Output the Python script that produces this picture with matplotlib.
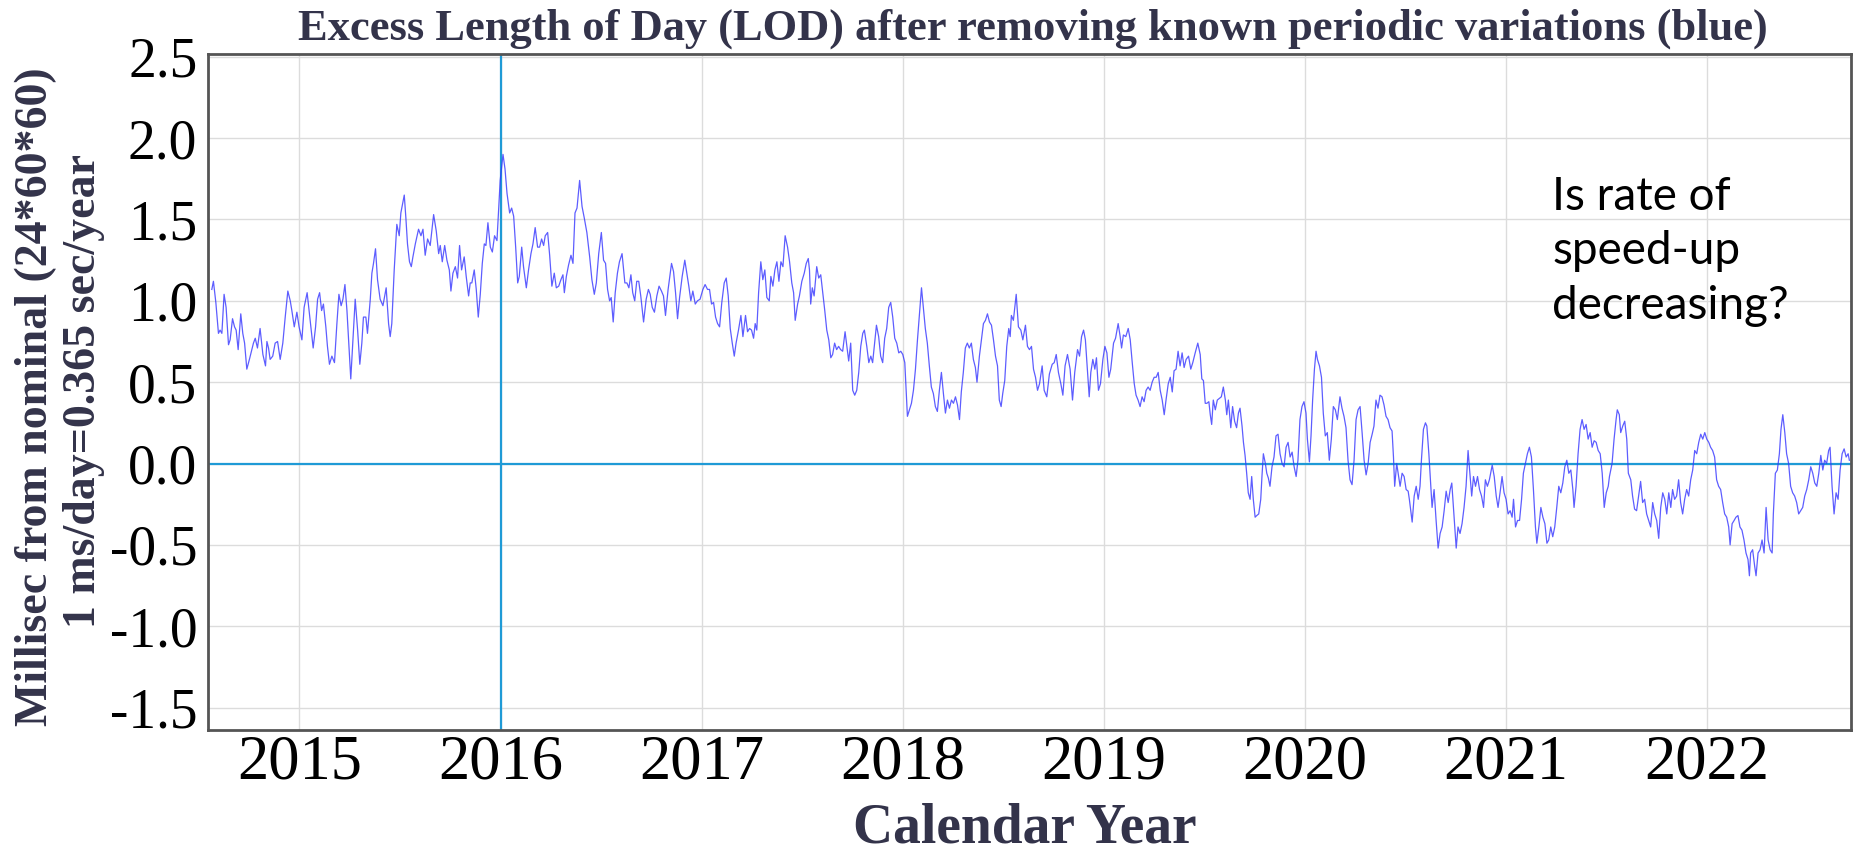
import numpy as np
import matplotlib
matplotlib.use("Agg")
import matplotlib.pyplot as plt

# excess LOD (ms) in eight stretches, decimal year vs value
t_a = [2014.564, 2014.572, 2014.584, 2014.597, 2014.605, 2014.614, 2014.625, 2014.635, 2014.647, 2014.655,
       2014.667, 2014.677, 2014.685, 2014.695, 2014.708, 2014.718, 2014.727, 2014.738, 2014.751, 2014.763,
       2014.771, 2014.780, 2014.791, 2014.804, 2014.818, 2014.831, 2014.838, 2014.846, 2014.854, 2014.867,
       2014.879, 2014.891, 2014.904, 2014.917, 2014.929, 2014.942, 2014.954, 2014.962, 2014.974, 2014.987,
       2014.998, 2015.012, 2015.023, 2015.038, 2015.053, 2015.068, 2015.080, 2015.090, 2015.100, 2015.110,
       2015.119, 2015.131, 2015.139, 2015.149, 2015.161, 2015.174, 2015.186, 2015.196, 2015.207, 2015.216,
       2015.226, 2015.236, 2015.245, 2015.255, 2015.265, 2015.277, 2015.289, 2015.300, 2015.310, 2015.318,
       2015.330, 2015.338, 2015.352, 2015.360, 2015.368, 2015.378, 2015.388, 2015.401, 2015.415, 2015.431,
       2015.443, 2015.451, 2015.459, 2015.471, 2015.484, 2015.496, 2015.504, 2015.521, 2015.529, 2015.537,
       2015.547]
v_a = [1.07, 1.12, 0.99, 0.80, 0.82, 0.80, 1.04, 0.96, 0.73, 0.76,
       0.89, 0.84, 0.82, 0.70, 0.92, 0.80, 0.74, 0.58, 0.64, 0.70,
       0.74, 0.77, 0.71, 0.83, 0.67, 0.60, 0.75, 0.71, 0.64, 0.66,
       0.74, 0.75, 0.64, 0.74, 0.90, 1.06, 1.00, 0.94, 0.84, 0.93,
       0.84, 0.76, 0.96, 1.05, 0.88, 0.71, 0.84, 1.01, 1.05, 0.94,
       0.98, 0.84, 0.72, 0.61, 0.66, 0.62, 0.86, 1.04, 0.97, 1.01,
       1.10, 0.94, 0.74, 0.52, 0.74, 1.01, 0.82, 0.61, 0.74, 0.90,
       0.90, 0.80, 1.01, 1.17, 1.23, 1.32, 1.13, 1.01, 0.97, 1.08,
       0.86, 0.78, 0.86, 1.19, 1.47, 1.40, 1.54, 1.65, 1.51, 1.35,
       1.24]

t_b = [2015.556, 2015.564, 2015.576, 2015.592, 2015.604, 2015.614, 2015.625, 2015.637, 2015.650, 2015.667,
       2015.680, 2015.692, 2015.700, 2015.710, 2015.722, 2015.733, 2015.745, 2015.753, 2015.763, 2015.775,
       2015.786, 2015.796, 2015.806, 2015.819, 2015.829, 2015.841, 2015.849, 2015.857, 2015.869, 2015.879,
       2015.889, 2015.899, 2015.909, 2015.919, 2015.927, 2015.937, 2015.949, 2015.959, 2015.970, 2015.982,
       2015.990, 2015.998, 2016.012, 2016.022, 2016.032, 2016.045, 2016.055, 2016.065, 2016.075, 2016.085,
       2016.093, 2016.105, 2016.114, 2016.128, 2016.139, 2016.151, 2016.161, 2016.172, 2016.184, 2016.194,
       2016.204, 2016.214, 2016.222, 2016.234, 2016.244, 2016.255, 2016.267, 2016.277, 2016.289, 2016.300,
       2016.310, 2016.317, 2016.327, 2016.338, 2016.350, 2016.360, 2016.370, 2016.380, 2016.393, 2016.405,
       2016.416, 2016.429, 2016.443, 2016.454, 2016.466, 2016.476, 2016.488, 2016.501, 2016.512, 2016.522,
       2016.532, 2016.542]
v_b = [1.21, 1.27, 1.35, 1.44, 1.40, 1.44, 1.28, 1.38, 1.34, 1.53,
       1.43, 1.29, 1.34, 1.24, 1.34, 1.25, 1.19, 1.06, 1.17, 1.21,
       1.14, 1.34, 1.19, 1.27, 1.15, 1.03, 1.11, 1.11, 1.19, 1.07,
       0.90, 1.04, 1.23, 1.35, 1.34, 1.48, 1.33, 1.30, 1.40, 1.37,
       1.56, 1.74, 1.90, 1.81, 1.66, 1.54, 1.57, 1.52, 1.33, 1.11,
       1.15, 1.33, 1.21, 1.08, 1.19, 1.29, 1.35, 1.45, 1.33, 1.33,
       1.38, 1.34, 1.40, 1.42, 1.28, 1.09, 1.17, 1.08, 1.09, 1.13,
       1.16, 1.05, 1.15, 1.22, 1.28, 1.23, 1.54, 1.57, 1.74, 1.58,
       1.51, 1.42, 1.27, 1.13, 1.04, 1.11, 1.29, 1.42, 1.25, 1.23,
       1.07, 1.00]

t_c = [2016.550, 2016.560, 2016.570, 2016.581, 2016.591, 2016.604, 2016.618, 2016.628, 2016.638, 2016.648,
       2016.657, 2016.667, 2016.677, 2016.687, 2016.697, 2016.711, 2016.724, 2016.735, 2016.744, 2016.754,
       2016.765, 2016.777, 2016.788, 2016.800, 2016.810, 2016.820, 2016.833, 2016.850, 2016.860, 2016.870,
       2016.880, 2016.890, 2016.903, 2016.916, 2016.926, 2016.936, 2016.946, 2016.956, 2016.968, 2016.979,
       2016.992, 2017.006, 2017.017, 2017.029, 2017.039, 2017.049, 2017.059, 2017.069, 2017.079, 2017.089,
       2017.100, 2017.112, 2017.122, 2017.132, 2017.142, 2017.152, 2017.162, 2017.171, 2017.183, 2017.195,
       2017.205, 2017.218, 2017.228, 2017.238, 2017.248, 2017.258, 2017.266, 2017.274, 2017.283, 2017.294,
       2017.304, 2017.314, 2017.324, 2017.336, 2017.344, 2017.354, 2017.364, 2017.374, 2017.384, 2017.394,
       2017.404, 2017.415, 2017.427, 2017.437, 2017.448, 2017.457, 2017.465, 2017.477, 2017.486, 2017.498,
       2017.510, 2017.520, 2017.530, 2017.536]
v_c = [1.02, 0.87, 1.05, 1.17, 1.24, 1.29, 1.11, 1.11, 1.08, 1.16,
       1.05, 1.00, 1.12, 1.12, 1.03, 0.87, 1.01, 1.07, 1.04, 0.96,
       0.93, 1.03, 1.09, 1.06, 1.03, 0.91, 1.07, 1.23, 1.18, 1.05,
       0.89, 1.02, 1.15, 1.25, 1.17, 1.09, 1.00, 1.06, 0.98, 1.00,
       1.01, 1.07, 1.10, 1.07, 1.07, 0.98, 0.99, 0.90, 0.86, 0.84,
       0.99, 1.11, 1.14, 1.03, 0.83, 0.74, 0.66, 0.74, 0.82, 0.91,
       0.78, 0.91, 0.81, 0.83, 0.82, 0.77, 0.86, 0.82, 1.05, 1.24,
       1.13, 1.19, 1.02, 1.00, 1.15, 1.09, 1.19, 1.24, 1.12, 1.24,
       1.21, 1.40, 1.33, 1.24, 1.11, 1.05, 0.88, 0.98, 1.03, 1.12,
       1.17, 1.23, 1.26, 1.19]

t_d = [2017.542, 2017.550, 2017.559, 2017.572, 2017.582, 2017.592, 2017.602, 2017.612, 2017.622, 2017.632,
       2017.642, 2017.651, 2017.661, 2017.671, 2017.681, 2017.691, 2017.701, 2017.713, 2017.723, 2017.731,
       2017.741, 2017.751, 2017.761, 2017.771, 2017.781, 2017.791, 2017.801, 2017.809, 2017.821, 2017.831,
       2017.841, 2017.850, 2017.860, 2017.869, 2017.880, 2017.890, 2017.900, 2017.910, 2017.920, 2017.930,
       2017.940, 2017.950, 2017.960, 2017.970, 2017.980, 2017.990, 2018.000, 2018.010, 2018.016, 2018.023,
       2018.033, 2018.043, 2018.053, 2018.063, 2018.073, 2018.083, 2018.093, 2018.102, 2018.112, 2018.122,
       2018.132, 2018.142, 2018.152, 2018.162, 2018.172, 2018.182, 2018.192, 2018.202, 2018.212, 2018.222,
       2018.232, 2018.242, 2018.252, 2018.262, 2018.272, 2018.282, 2018.291, 2018.301, 2018.311, 2018.321,
       2018.331, 2018.341, 2018.351, 2018.361, 2018.369, 2018.381, 2018.391, 2018.401, 2018.411, 2018.421,
       2018.431, 2018.441, 2018.451, 2018.461, 2018.471, 2018.480, 2018.489, 2018.497, 2018.507, 2018.517,
       2018.527, 2018.534]
v_d = [0.98, 1.08, 1.03, 1.21, 1.14, 1.16, 1.05, 0.94, 0.82, 0.76,
       0.65, 0.67, 0.74, 0.70, 0.72, 0.70, 0.69, 0.81, 0.71, 0.63,
       0.74, 0.45, 0.42, 0.45, 0.56, 0.72, 0.80, 0.82, 0.72, 0.62,
       0.66, 0.62, 0.74, 0.85, 0.78, 0.66, 0.62, 0.77, 0.83, 0.96,
       0.99, 0.90, 0.77, 0.74, 0.68, 0.69, 0.67, 0.62, 0.47, 0.29,
       0.33, 0.37, 0.45, 0.58, 0.76, 0.92, 1.08, 0.96, 0.83, 0.74,
       0.60, 0.47, 0.43, 0.35, 0.32, 0.45, 0.56, 0.43, 0.31, 0.39,
       0.34, 0.39, 0.37, 0.41, 0.36, 0.27, 0.44, 0.56, 0.71, 0.74,
       0.71, 0.74, 0.64, 0.59, 0.50, 0.66, 0.76, 0.86, 0.88, 0.92,
       0.87, 0.85, 0.76, 0.66, 0.60, 0.39, 0.35, 0.43, 0.51, 0.72,
       0.83, 0.78]

t_e = [2018.540, 2018.550, 2018.564, 2018.575, 2018.587, 2018.597, 2018.610, 2018.620, 2018.630, 2018.640,
       2018.650, 2018.660, 2018.670, 2018.680, 2018.693, 2018.703, 2018.716, 2018.729, 2018.743, 2018.753,
       2018.763, 2018.774, 2018.786, 2018.796, 2018.807, 2018.819, 2018.832, 2018.844, 2018.855, 2018.869,
       2018.879, 2018.889, 2018.899, 2018.908, 2018.918, 2018.927, 2018.935, 2018.945, 2018.955, 2018.963,
       2018.973, 2018.983, 2018.995, 2019.005, 2019.015, 2019.025, 2019.034, 2019.048, 2019.058, 2019.071,
       2019.081, 2019.088, 2019.097, 2019.109, 2019.121, 2019.131, 2019.141, 2019.151, 2019.160, 2019.170,
       2019.180, 2019.190, 2019.200, 2019.210, 2019.220, 2019.230, 2019.240, 2019.250, 2019.260, 2019.270,
       2019.280, 2019.290, 2019.300, 2019.310, 2019.320, 2019.330, 2019.340, 2019.349, 2019.359, 2019.369,
       2019.379, 2019.389, 2019.399, 2019.409, 2019.421, 2019.432, 2019.442, 2019.454, 2019.467, 2019.479,
       2019.487, 2019.495, 2019.504, 2019.512, 2019.522, 2019.529]
v_e = [0.91, 0.88, 1.04, 0.84, 0.82, 0.76, 0.85, 0.72, 0.70, 0.72,
       0.58, 0.53, 0.45, 0.49, 0.60, 0.45, 0.41, 0.55, 0.61, 0.62,
       0.67, 0.56, 0.49, 0.42, 0.60, 0.67, 0.58, 0.39, 0.56, 0.70,
       0.66, 0.78, 0.82, 0.76, 0.58, 0.41, 0.56, 0.64, 0.58, 0.65,
       0.45, 0.49, 0.64, 0.72, 0.68, 0.53, 0.58, 0.74, 0.77, 0.86,
       0.78, 0.71, 0.79, 0.78, 0.83, 0.76, 0.62, 0.49, 0.42, 0.39,
       0.35, 0.41, 0.38, 0.45, 0.47, 0.45, 0.50, 0.53, 0.53, 0.56,
       0.45, 0.39, 0.30, 0.40, 0.49, 0.53, 0.44, 0.57, 0.58, 0.69,
       0.60, 0.68, 0.59, 0.64, 0.66, 0.58, 0.62, 0.68, 0.74, 0.67,
       0.52, 0.51, 0.37, 0.37, 0.38, 0.30]

t_f = [2019.536, 2019.544, 2019.554, 2019.564, 2019.574, 2019.584, 2019.594, 2019.604, 2019.611, 2019.619,
       2019.631, 2019.640, 2019.650, 2019.660, 2019.669, 2019.677, 2019.687, 2019.694, 2019.702, 2019.710,
       2019.718, 2019.727, 2019.735, 2019.743, 2019.752, 2019.760, 2019.770, 2019.780, 2019.786, 2019.793,
       2019.803, 2019.810, 2019.818, 2019.826, 2019.836, 2019.846, 2019.856, 2019.866, 2019.876, 2019.886,
       2019.896, 2019.906, 2019.916, 2019.926, 2019.936, 2019.946, 2019.956, 2019.965, 2019.975, 2019.985,
       2019.995, 2020.005, 2020.012, 2020.022, 2020.030, 2020.038, 2020.047, 2020.055, 2020.062, 2020.072,
       2020.082, 2020.091, 2020.101, 2020.111, 2020.121, 2020.131, 2020.141, 2020.151, 2020.161, 2020.174,
       2020.184, 2020.194, 2020.204, 2020.214, 2020.224, 2020.234, 2020.244, 2020.254, 2020.264, 2020.274,
       2020.284, 2020.294, 2020.304, 2020.314, 2020.324, 2020.334, 2020.343, 2020.353, 2020.363, 2020.373,
       2020.383, 2020.393, 2020.403, 2020.413, 2020.423, 2020.433, 2020.440, 2020.446, 2020.456, 2020.466,
       2020.473, 2020.483, 2020.493, 2020.503, 2020.513, 2020.519]
v_f = [0.24, 0.39, 0.33, 0.39, 0.40, 0.41, 0.47, 0.39, 0.30, 0.39,
       0.22, 0.35, 0.26, 0.22, 0.31, 0.34, 0.23, 0.13, 0.05, -0.06,
       -0.18, -0.22, -0.08, -0.22, -0.33, -0.32, -0.31, -0.22, -0.08, 0.06,
       0.00, -0.06, -0.09, -0.14, -0.02, 0.04, 0.17, 0.18, 0.06, 0.00,
       -0.02, 0.10, 0.13, 0.04, 0.07, -0.02, -0.08, 0.02, 0.27, 0.35,
       0.38, 0.31, 0.15, 0.01, 0.17, 0.39, 0.58, 0.69, 0.64, 0.60,
       0.53, 0.31, 0.17, 0.19, 0.02, 0.15, 0.35, 0.33, 0.27, 0.41,
       0.34, 0.29, 0.22, 0.02, -0.10, -0.13, 0.02, 0.27, 0.33, 0.35,
       0.19, 0.02, -0.07, 0.00, 0.13, 0.18, 0.23, 0.39, 0.34, 0.42,
       0.41, 0.36, 0.29, 0.27, 0.22, 0.20, 0.04, -0.14, 0.00, -0.08,
       -0.14, -0.06, -0.08, -0.16, -0.17, -0.22]

t_g = [2020.533, 2020.543, 2020.553, 2020.563, 2020.572, 2020.579, 2020.589, 2020.599, 2020.606, 2020.616,
       2020.626, 2020.632, 2020.642, 2020.652, 2020.662, 2020.672, 2020.682, 2020.692, 2020.702, 2020.712,
       2020.722, 2020.730, 2020.738, 2020.747, 2020.752, 2020.761, 2020.771, 2020.781, 2020.791, 2020.801,
       2020.811, 2020.821, 2020.829, 2020.838, 2020.848, 2020.858, 2020.868, 2020.878, 2020.888, 2020.897,
       2020.907, 2020.917, 2020.931, 2020.941, 2020.951, 2020.960, 2020.970, 2020.980, 2020.990, 2021.000,
       2021.010, 2021.020, 2021.030, 2021.037, 2021.047, 2021.057, 2021.067, 2021.077, 2021.086, 2021.096,
       2021.106, 2021.116, 2021.126, 2021.136, 2021.146, 2021.153, 2021.163, 2021.173, 2021.183, 2021.193,
       2021.203, 2021.212, 2021.222, 2021.232, 2021.242, 2021.252, 2021.262, 2021.272, 2021.282, 2021.292,
       2021.302, 2021.312, 2021.322, 2021.332, 2021.338, 2021.348, 2021.358, 2021.368, 2021.378, 2021.388,
       2021.398, 2021.408, 2021.418, 2021.428, 2021.438, 2021.448, 2021.458, 2021.468, 2021.478, 2021.488,
       2021.498, 2021.508, 2021.514]
v_g = [-0.36, -0.20, -0.14, -0.22, -0.14, 0.02, 0.21, 0.25, 0.23, 0.06,
       -0.14, -0.27, -0.16, -0.35, -0.52, -0.43, -0.39, -0.29, -0.17, -0.24,
       -0.16, -0.12, -0.27, -0.43, -0.52, -0.39, -0.43, -0.37, -0.27, -0.14,
       0.08, -0.08, -0.20, -0.08, -0.14, -0.08, -0.16, -0.20, -0.27, -0.10,
       -0.14, -0.10, -0.01, -0.08, -0.20, -0.27, -0.18, -0.08, -0.18, -0.22,
       -0.31, -0.29, -0.33, -0.22, -0.39, -0.35, -0.35, -0.22, -0.06, 0.00,
       0.06, 0.10, 0.04, -0.16, -0.39, -0.49, -0.39, -0.27, -0.33, -0.37,
       -0.49, -0.47, -0.39, -0.45, -0.39, -0.27, -0.14, -0.18, -0.12, -0.02,
       0.02, -0.06, -0.04, -0.16, -0.27, -0.14, 0.06, 0.21, 0.27, 0.21,
       0.24, 0.15, 0.19, 0.10, 0.14, 0.13, 0.08, 0.06, -0.06, -0.27,
       -0.18, -0.14, -0.08]

t_h = [2021.527, 2021.537, 2021.547, 2021.553, 2021.563, 2021.570, 2021.580, 2021.590, 2021.600, 2021.608,
       2021.620, 2021.629, 2021.639, 2021.649, 2021.659, 2021.669, 2021.679, 2021.689, 2021.699, 2021.709,
       2021.719, 2021.729, 2021.739, 2021.749, 2021.759, 2021.769, 2021.779, 2021.789, 2021.799, 2021.809,
       2021.819, 2021.828, 2021.838, 2021.848, 2021.858, 2021.868, 2021.878, 2021.888, 2021.898, 2021.908,
       2021.918, 2021.928, 2021.938, 2021.948, 2021.958, 2021.968, 2021.978, 2021.988, 2021.998, 2022.008,
       2022.017, 2022.027, 2022.037, 2022.047, 2022.057, 2022.067, 2022.077, 2022.087, 2022.097, 2022.107,
       2022.114, 2022.124, 2022.134, 2022.143, 2022.153, 2022.163, 2022.173, 2022.183, 2022.193, 2022.203,
       2022.210, 2022.216, 2022.226, 2022.236, 2022.243, 2022.253, 2022.263, 2022.273, 2022.283, 2022.293,
       2022.303, 2022.313, 2022.323, 2022.329, 2022.339, 2022.349, 2022.359, 2022.367, 2022.376, 2022.386,
       2022.395, 2022.405, 2022.415, 2022.425, 2022.435, 2022.445, 2022.455, 2022.465, 2022.475, 2022.485,
       2022.495, 2022.505, 2022.515, 2022.525, 2022.535, 2022.545, 2022.555, 2022.565, 2022.575, 2022.584,
       2022.594, 2022.604, 2022.611, 2022.621, 2022.631, 2022.641, 2022.651, 2022.661, 2022.671, 2022.681,
       2022.691, 2022.701, 2022.707]
v_h = [0.00, 0.15, 0.27, 0.33, 0.30, 0.19, 0.23, 0.26, 0.15, -0.06,
       -0.10, -0.20, -0.28, -0.29, -0.20, -0.11, -0.24, -0.22, -0.31, -0.35,
       -0.39, -0.24, -0.31, -0.35, -0.46, -0.27, -0.18, -0.22, -0.31, -0.18,
       -0.27, -0.16, -0.22, -0.20, -0.10, -0.24, -0.31, -0.22, -0.16, -0.20,
       -0.10, -0.04, 0.08, 0.06, 0.13, 0.18, 0.15, 0.19, 0.15, 0.13,
       0.10, 0.08, 0.04, -0.10, -0.14, -0.16, -0.24, -0.31, -0.33, -0.39,
       -0.50, -0.37, -0.35, -0.33, -0.32, -0.39, -0.41, -0.47, -0.55, -0.59,
       -0.69, -0.55, -0.53, -0.63, -0.69, -0.55, -0.53, -0.47, -0.55, -0.27,
       -0.47, -0.53, -0.55, -0.31, -0.06, -0.04, 0.06, 0.21, 0.30, 0.19,
       0.06, 0.00, -0.14, -0.18, -0.20, -0.24, -0.31, -0.29, -0.27, -0.20,
       -0.16, -0.10, -0.02, -0.06, -0.12, -0.14, -0.06, 0.05, -0.04, 0.02,
       0.00, 0.08, 0.10, -0.14, -0.31, -0.18, -0.22, -0.04, 0.06, 0.09,
       0.04, 0.06, 0.02]

segments = [(t_a, v_a), (t_b, v_b), (t_c, v_c), (t_d, v_d),
            (t_e, v_e), (t_f, v_f), (t_g, v_g), (t_h, v_h)]
for t, v in segments:
    assert len(t) == len(v), (len(t), len(v))

years = np.concatenate([t for t, v in segments])
lod = np.concatenate([v for t, v in segments])

year_ticks = [2015, 2016, 2017, 2018, 2019, 2020, 2021, 2022]
lod_ticks = [-1.5, -1.0, -0.5, 0.0, 0.5, 1.0, 1.5, 2.0, 2.5]

title = "Excess Length of Day (LOD) after removing known periodic variations (blue)"
ylab1 = "Millisec from nominal (24*60*60)"
ylab2 = "1 ms/day=0.365 sec/year"
note = "Is rate of\nspeed-up\ndecreasing?"

serif = "Liberation Serif"
dark = "#33334a"

fig = plt.figure(figsize=(18.64, 8.55), dpi=100)
ax = fig.add_axes([0.1118, 0.1462, 0.8811, 0.7912])

ax.set_xlim(2014.547, 2022.714)
ax.set_ylim(-1.638, 2.52)

ax.set_xticks(year_ticks)
ax.set_yticks(lod_ticks)
ax.set_xticklabels([str(y) for y in year_ticks], fontfamily=serif, fontsize=45)
ax.set_yticklabels(["%.1f" % v for v in lod_ticks], fontfamily=serif, fontsize=40)
ax.tick_params(axis="both", length=0)
ax.tick_params(axis="x", pad=3)
ax.tick_params(axis="y", pad=8)

ax.grid(True, color="#dcdcdc", lw=1.0)
ax.set_axisbelow(True)

# reference lines
ax.axhline(0.0, color="#1f9ad6", lw=1.6, zorder=2)
ax.axvline(2016.0, color="#1f9ad6", lw=1.6, zorder=2)

ax.plot(years, lod, color="#3535ff", lw=0.9, alpha=0.8, zorder=3)

for s in ax.spines.values():
    s.set_color("#555555")
    s.set_linewidth(2.0)

ax.text(2021.23, 1.77, note, fontfamily="Lato", fontsize=33, va="top", ha="left",
        linespacing=1.37, color="black")

fig.text(0.554, 0.966, title, fontfamily=serif, fontweight="bold", fontsize=32,
         color=dark, ha="center", va="center")
fig.text(0.550, 0.061, "Calendar Year", fontfamily=serif, fontweight="bold", fontsize=40,
         color=dark, ha="center", va="top")
fig.text(0.0195, 0.536, ylab1, fontfamily=serif, fontweight="bold", fontsize=33,
         color=dark, ha="center", va="center", rotation=90)
fig.text(0.045, 0.543, ylab2, fontfamily=serif, fontweight="bold", fontsize=33,
         color=dark, ha="center", va="center", rotation=90)

fig.savefig("out.png", dpi=100)
